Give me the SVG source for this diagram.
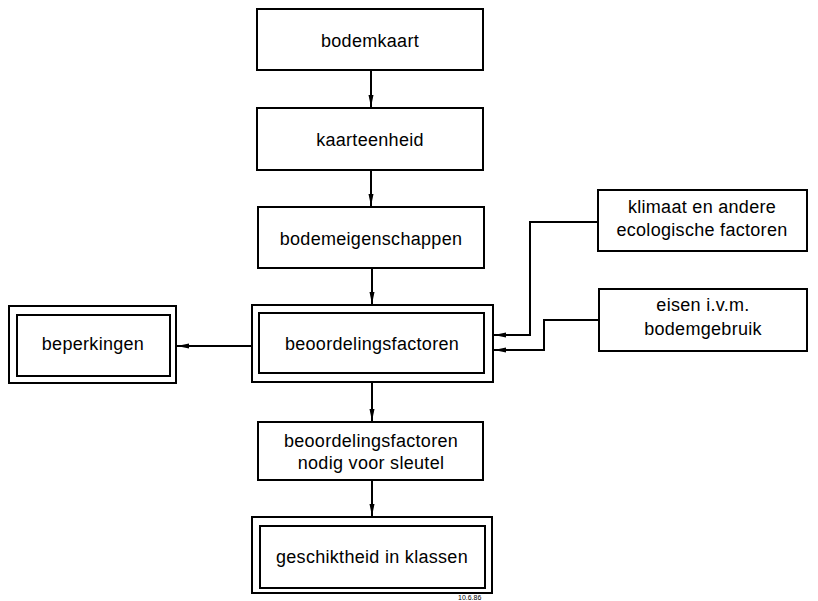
<svg xmlns="http://www.w3.org/2000/svg" width="818" height="601" viewBox="0 0 818 601">
<style>
.box{fill:#fff;stroke:#000;stroke-width:2}
.t{font-family:"Liberation Sans",Arial,sans-serif;font-size:18px;letter-spacing:0.3px;fill:#000;text-anchor:middle}
.c{fill:none;stroke:#000;stroke-width:2}
.s{font-family:"Liberation Sans",Arial,sans-serif;font-size:7px;fill:#000}
</style>
<defs>
<marker id="ah" viewBox="0 0 12 6" refX="12" refY="3" markerWidth="12" markerHeight="6" markerUnits="userSpaceOnUse" orient="auto">
<path d="M0,0.5 L12,3 L0,5.5 Z" fill="#000"/>
</marker>
</defs>
<rect width="818" height="601" fill="#fff"/>
<g id="connectors">
<path class="c" d="M371,70 V107" marker-end="url(#ah)"/>
<path class="c" d="M371,170 V206" marker-end="url(#ah)"/>
<path class="c" d="M372,268 V304" marker-end="url(#ah)"/>
<path class="c" d="M372,382 V421" marker-end="url(#ah)"/>
<path class="c" d="M372,480 V516" marker-end="url(#ah)"/>
<path class="c" d="M252,346 H177" marker-end="url(#ah)"/>
<path class="c" d="M598,222 H530 V335 H494" marker-end="url(#ah)"/>
<path class="c" d="M599,320 H544 V350 H494" marker-end="url(#ah)"/>
</g>
<g id="bodemkaart">
<rect class="box" x="257" y="9" width="226" height="61"/>
<text class="t" x="370" y="47">bodemkaart</text>
</g>
<g id="kaarteenheid">
<rect class="box" x="257" y="108" width="226" height="62"/>
<text class="t" x="370" y="146">kaarteenheid</text>
</g>
<g id="bodemeigenschappen">
<rect class="box" x="258" y="207" width="226" height="61"/>
<text class="t" x="371" y="245">bodemeigenschappen</text>
</g>
<g id="beoordelingsfactoren">
<rect class="box" x="252" y="305" width="241" height="77"/>
<rect class="box" x="259" y="313" width="225" height="60"/>
<text class="t" x="372" y="350">beoordelingsfactoren</text>
</g>
<g id="beperkingen">
<rect class="box" x="9" y="306" width="167" height="77"/>
<rect class="box" x="17" y="315" width="153" height="61"/>
<text class="t" x="93" y="350">beperkingen</text>
</g>
<g id="klimaat">
<rect class="box" x="598" y="190" width="209" height="61"/>
<text class="t" x="702" y="213">klimaat en andere</text>
<text class="t" x="702" y="236">ecologische factoren</text>
</g>
<g id="eisen">
<rect class="box" x="599" y="289" width="208" height="62"/>
<text class="t" x="703" y="311">eisen i.v.m.</text>
<text class="t" x="703" y="335">bodemgebruik</text>
</g>
<g id="sleutel">
<rect class="box" x="258" y="422" width="225" height="58"/>
<text class="t" x="371" y="447">beoordelingsfactoren</text>
<text class="t" x="371" y="469">nodig voor sleutel</text>
</g>
<g id="geschiktheid">
<rect class="box" x="252" y="517" width="240" height="76"/>
<rect class="box" x="260" y="526" width="225" height="62"/>
<text class="t" x="372" y="563">geschiktheid in klassen</text>
</g>
<text class="s" x="458" y="600">10.6.86</text>
</svg>
